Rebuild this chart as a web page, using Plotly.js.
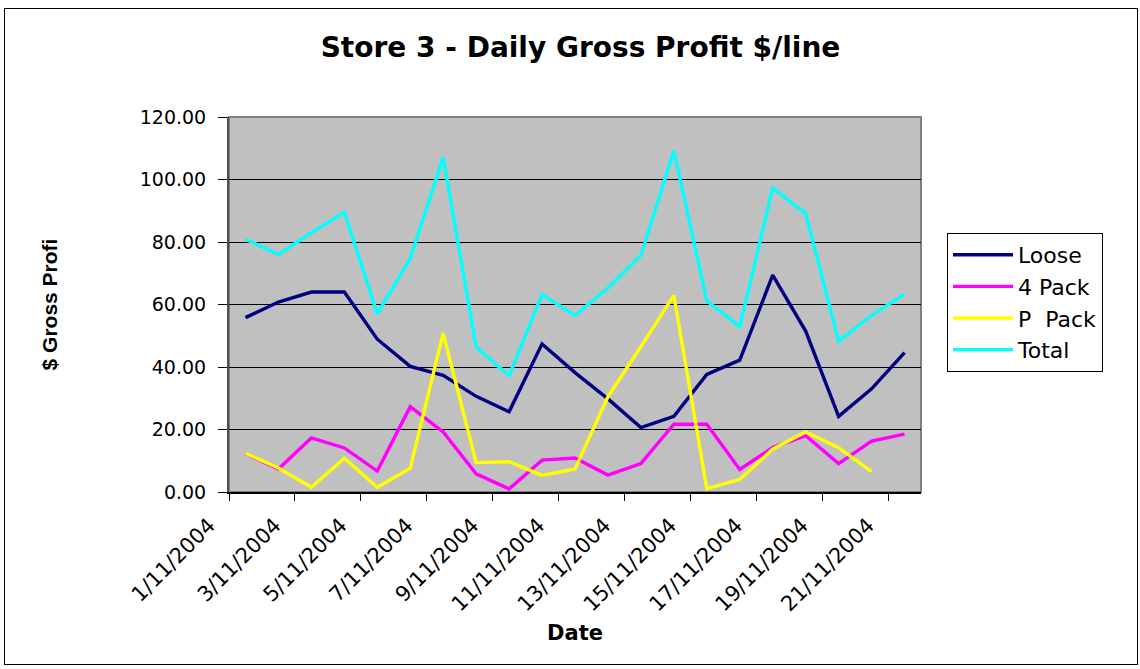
<!DOCTYPE html>
<html>
<head>
<meta charset="utf-8">
<script src="https://cdn.plot.ly/plotly-3.0.1.min.js"></script>
<style>
html, body { margin: 0; padding: 0; background: #ffffff; }
#chart { position: absolute; left: 0; top: 0; width: 1140px; height: 669px; }
#frame { position: absolute; left: 4px; top: 8px; width: 1134px; height: 657px; border: 1px solid #000; box-sizing: border-box; pointer-events: none; }
</style>
</head>
<body>
<div id="chart"></div>
<div id="frame"></div>
<script>
// ---- data ----
const dates = ["1/11/2004","2/11/2004","3/11/2004","4/11/2004","5/11/2004","6/11/2004","7/11/2004",
  "8/11/2004","9/11/2004","10/11/2004","11/11/2004","12/11/2004","13/11/2004","14/11/2004",
  "15/11/2004","16/11/2004","17/11/2004","18/11/2004","19/11/2004","20/11/2004","21/11/2004"];
const loose  = [55.8, 60.8, 64.0, 64.0, 48.9, 40.2, 37.3, 30.6, 25.7, 47.4, 38.2, 29.8, 20.6, 24.2, 37.6, 42.2, 69.4, 51.5, 24.2, 33.0, 44.6];
const pack4  = [12.3, 7.4, 17.3, 14.1, 6.7, 27.3, 19.2, 5.8, 1.0, 10.2, 10.9, 5.4, 9.1, 21.7, 21.7, 7.2, 14.2, 18.0, 9.1, 16.3, 18.5];
const packP  = [12.4, 7.7, 1.5, 10.8, 1.5, 7.6, 50.8, 9.4, 9.7, 5.3, 7.4, 30.5, 46.5, 62.9, 1.1, 4.0, 13.7, 19.2, 14.2, 6.5, null];
const total  = [80.9, 76.0, 83.0, 89.5, 57.0, 74.8, 107.0, 46.4, 37.2, 63.2, 56.5, 65.3, 75.7, 109.2, 61.2, 52.9, 97.3, 89.1, 48.3, 56.5, 63.3];
const seriesNames = ["Loose", "4 Pack", "P\u00a0\u00a0Pack", "Total"];
const yTickVals = [0, 20, 40, 60, 80, 100, 120];

// ---- styles ----
const seriesColors = ["#000080", "#ff00ff", "#ffff00", "#00ffff"];
const seriesData = [loose, pack4, packP, total];

const dayIndex = dates.map((d, i) => i + 1);
// category boundaries every second day carry the tick marks/labels
const labelIdx = dates.map((d, i) => i).filter(i => i % 2 === 0);
const tickVals = labelIdx.map(i => dayIndex[i] - 0.5);
const tickText = labelIdx.map(i => dates[i]);

const traces = seriesData.map((vals, k) => ({
  type: "scatter",
  mode: "lines",
  x: dayIndex,
  y: vals,
  name: seriesNames[k],
  legendgroup: "g" + k,
  text: dates,
  hovertemplate: "%{text}: %{y:.2f}<extra>" + seriesNames[k] + "</extra>",
  line: { color: seriesColors[k], width: 3.4 },
  connectgaps: false
}));

const baseFont = "DejaVu Sans, Arial, sans-serif";

const layout = {
  width: 1140,
  height: 669,
  margin: { l: 229, r: 219, t: 117, b: 177, pad: 0 },
  paper_bgcolor: "rgba(255,255,255,0)",
  plot_bgcolor: "#c0c0c0",
  font: { family: baseFont, color: "#000000", size: 18 },
  title: {
    text: "Store 3 - Daily Gross Profit $/line",
    font: { family: baseFont, size: 28, weight: "bold", color: "#000" },
    x: 0.508, xref: "paper", xanchor: "center",
    y: 1 - 47 / 669, yref: "container", yanchor: "middle"
  },
  xaxis: {
    range: [0.5, 21.5],
    tickmode: "array",
    tickvals: tickVals,
    ticktext: tickText,
    tickangle: -45,
    ticks: "outside",
    ticklen: 7,
    tickcolor: "#000",
    tickwidth: 1,
    ticklabelshift: -20,
    ticklabelstandoff: 4,
    tickfont: { family: baseFont, size: 21, color: "#000" },
    showgrid: false,
    zeroline: false,
    showline: true,
    linecolor: "#000",
    linewidth: 1.5,
    fixedrange: true,
    title: { text: "Date", font: { family: baseFont, size: 21, weight: "bold" }, standoff: 10 }
  },
  yaxis: {
    range: [0, 120],
    tickmode: "array",
    tickvals: yTickVals,
    ticktext: yTickVals.map(v => v.toFixed(2)),
    ticks: "outside",
    ticklen: 9,
    tickcolor: "#000",
    ticklabelstandoff: 8,
    tickfont: { family: baseFont, size: 19, color: "#000" },
    showgrid: true,
    gridcolor: "#000",
    gridwidth: 1,
    zeroline: false,
    showline: true,
    linecolor: "#505050",
    linewidth: 2,
    fixedrange: true,
    title: { text: "$ Gross Profi", font: { family: "Liberation Sans, Arial, sans-serif", size: 21, weight: "bold" }, standoff: 76 }
  },
  legend: {
    x: (947 - 229) / 692,
    y: (492 - 233) / 375,
    xanchor: "left",
    yanchor: "top",
    bgcolor: "#ffffff",
    bordercolor: "#000",
    borderwidth: 1,
    font: { family: baseFont, size: 22, color: "#000" },
    tracegroupgap: 17,
    itemwidth: 60,
    traceorder: "normal"
  },
  shapes: [{
    type: "rect", xref: "paper", yref: "paper", x0: 0, x1: 1, y0: 0, y1: 1,
    line: { color: "#808080", width: 2 }, layer: "below"
  }],
  showlegend: true
};

Plotly.newPlot("chart", traces, layout, { displayModeBar: false, staticPlot: false });
</script>
</body>
</html>
